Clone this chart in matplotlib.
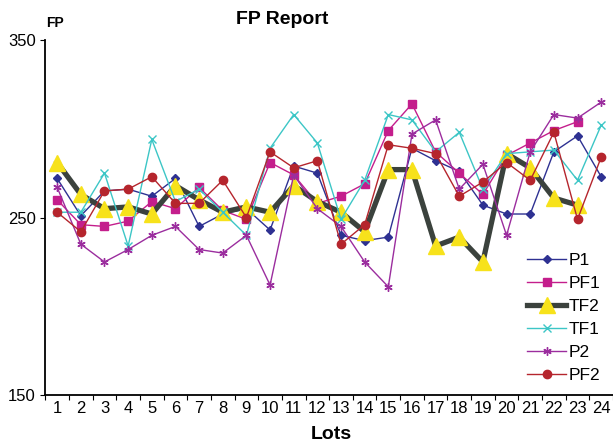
import numpy as np
import matplotlib
matplotlib.use("Agg")
import matplotlib.pyplot as plt

plt.rcParams['font.family'] = ['Liberation Sans', 'DejaVu Sans']

lots = list(range(1, 25))
p1 = [272, 251, 265, 266, 262, 272, 245, 252, 255, 243, 279, 275,
      240, 237, 239, 289, 282, 276, 257, 252, 252, 287, 296, 273]
pf1 = [260, 246, 245, 248, 259, 255, 267, 254, 249, 281, 274, 258,
       262, 269, 299, 314, 287, 275, 263, 285, 292, 299, 304, np.nan]
tf2 = [281, 263, 255, 256, 252, 268, 260, 253, 256, 253, 268, 259,
       253, 242, 277, 277, 234, 239, 225, 286, 278, 261, 257, np.nan]
tf1 = [253, 253, 275, 234, 294, 259, 266, 253, 240, 289, 308, 292,
       249, 271, 308, 305, 287, 298, 266, 286, 287, 288, 271, 302]
p2 = [267, 235, 225, 232, 240, 245, 232, 230, 240, 212, 274, 255,
      245, 225, 211, 297, 305, 266, 280, 240, 287, 308, 306, 315]
pf2 = [253, 242, 265, 266, 273, 258, 258, 271, 250, 287, 278, 282,
       235, 246, 291, 289, 286, 262, 270, 281, 271, 298, 249, 284]

fig = plt.figure(figsize=(6.13, 4.44), dpi=100)
ax = fig.add_axes([0.074, 0.11, 0.926, 0.80])

ax.plot(lots, p1, color='#2e3192', marker='D', markersize=4.5, lw=1, label='P1')
ax.plot(lots, pf1, color='#c41e8c', marker='s', markersize=6, lw=1, label='PF1')
ax.plot(lots, tf2, color='#3b423d', marker='^', markersize=12, lw=3.8,
        markerfacecolor='#f7e21b', markeredgecolor='#f7e21b', label='TF2')
ax.plot(lots, tf1, color='#3cc6c6', marker='x', markersize=6, lw=1, label='TF1')
ax.plot(lots, p2, color='#9b2d9e', marker=(6, 2, 0), markersize=6, lw=1, label='P2')
ax.plot(lots, pf2, color='#b5252d', marker='o', markersize=6, lw=1, label='PF2')

ax.set_xlim(0.5, 24.5)
ax.set_ylim(150, 350)
ax.set_yticks([150, 250, 350])
ax.set_xticks(np.arange(0.5, 25, 1))
ax.set_xticklabels([])
ax.set_xticks(lots, minor=True)
ax.set_xticklabels([str(i) for i in lots], minor=True)
ax.tick_params(axis='x', which='minor', length=0, labelsize=12, pad=4)
ax.tick_params(axis='x', which='major', length=3.5)
ax.tick_params(axis='y', labelsize=12, length=3.5)
ax.spines['top'].set_visible(False)
ax.spines['right'].set_visible(False)
ax.spines['left'].set_linewidth(1.3)
ax.spines['bottom'].set_linewidth(1.3)

fig.text(0.46, 0.955, 'FP Report', ha='center', va='center',
         fontsize=14, fontweight='bold')
fig.text(0.09, 0.948, 'FP', ha='center', va='center',
         fontsize=10, fontweight='bold')
fig.text(0.54, 0.022, 'Lots', ha='center', va='center',
         fontsize=14, fontweight='bold')

ax.legend(loc='lower right', bbox_to_anchor=(1.0, 0.0), frameon=False,
          fontsize=12.5, handlelength=2.2, labelspacing=0.45, borderpad=0.2,
          handletextpad=0.2)

fig.savefig('out.png', dpi=100)
